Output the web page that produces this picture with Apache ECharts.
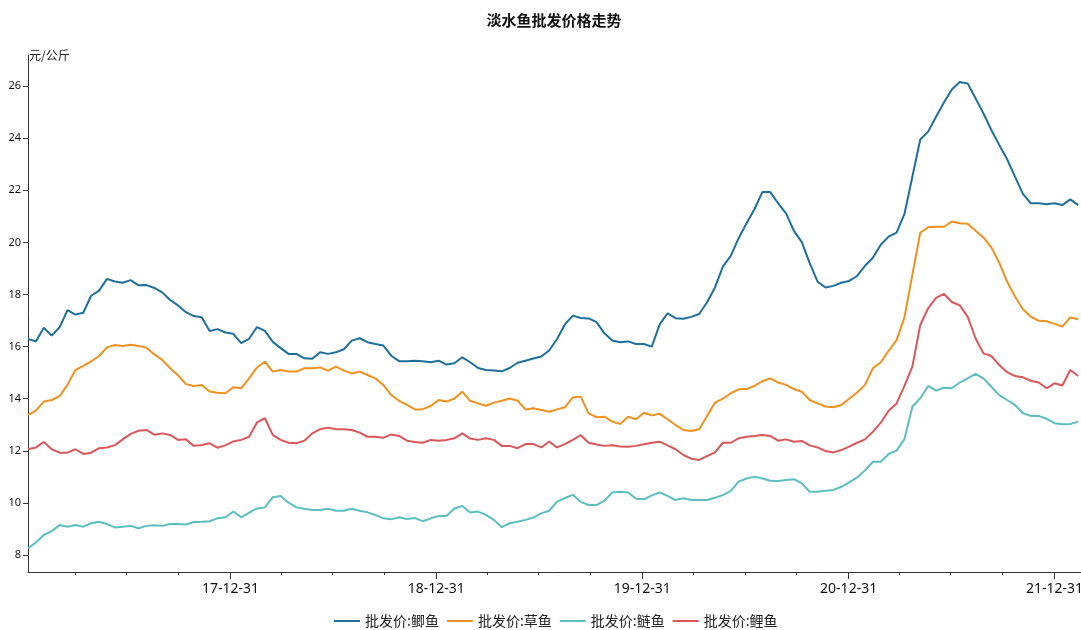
<!DOCTYPE html>
<html><head><meta charset="utf-8">
<script src="https://cdn.jsdelivr.net/npm/echarts@6/dist/echarts.min.js"></script>
<style>html,body{margin:0;padding:0;background:#fff}#c{width:1081px;height:630px}</style>
</head><body><div id="c"></div>
<script>
const chartTitle = '淡水鱼批发价格走势';
const yUnit = '元/公斤';
const seriesNames = ['批发价:鲫鱼', '批发价:草鱼', '批发价:鲢鱼', '批发价:鲤鱼'];
const firstDate = '2017-01-06';
const stepDays = 14;
const crucian = [
16.29,16.2,16.72,16.42,16.74,17.4,17.23,17.3,17.95,18.15,
18.6,18.5,18.45,18.55,18.35,18.36,18.25,18.08,17.79,17.58,
17.32,17.17,17.13,16.6,16.67,16.54,16.49,16.13,16.3,16.75,
16.6,16.18,15.94,15.72,15.72,15.55,15.53,15.78,15.72,15.78,
15.9,16.23,16.32,16.17,16.1,16.04,15.65,15.44,15.44,15.46,
15.44,15.4,15.46,15.31,15.36,15.59,15.4,15.18,15.1,15.08,
15.05,15.18,15.38,15.46,15.54,15.62,15.85,16.29,16.85,17.19,
17.1,17.08,16.94,16.51,16.23,16.17,16.2,16.1,16.1,16.0,
16.85,17.28,17.09,17.07,17.14,17.25,17.7,18.27,19.07,19.48,
20.16,20.73,21.27,21.93,21.93,21.5,21.11,20.44,20.01,19.2,
18.49,18.27,18.33,18.45,18.52,18.71,19.1,19.41,19.91,20.22,
20.37,21.09,22.52,23.95,24.25,24.82,25.37,25.87,26.15,26.1,
25.53,24.95,24.31,23.74,23.19,22.52,21.86,21.5,21.5,21.46,
21.5,21.43,21.65,21.43];
const grass = [
13.38,13.54,13.89,13.95,14.1,14.53,15.1,15.26,15.43,15.64,
15.97,16.06,16.02,16.07,16.02,15.96,15.7,15.49,15.17,14.9,
14.56,14.49,14.53,14.28,14.23,14.21,14.44,14.4,14.78,15.2,
15.42,15.04,15.1,15.04,15.04,15.17,15.17,15.2,15.08,15.23,
15.08,14.97,15.04,14.91,14.78,14.53,14.14,13.92,13.76,13.59,
13.6,13.72,13.95,13.89,14.01,14.27,13.92,13.82,13.73,13.85,
13.92,14.01,13.92,13.59,13.63,13.57,13.5,13.59,13.67,14.05,
14.08,13.44,13.29,13.31,13.12,13.03,13.31,13.21,13.46,13.36,
13.42,13.21,12.99,12.8,12.76,12.83,13.34,13.85,14.0,14.21,
14.36,14.37,14.49,14.67,14.78,14.62,14.53,14.37,14.27,13.95,
13.82,13.7,13.67,13.76,14.0,14.24,14.53,15.17,15.4,15.84,
16.25,17.12,18.75,20.37,20.58,20.6,20.6,20.8,20.73,20.71,
20.45,20.19,19.81,19.22,18.49,17.92,17.43,17.15,16.99,16.97,
16.87,16.77,17.12,17.05];
const silver = [
8.26,8.48,8.77,8.92,9.15,9.09,9.15,9.09,9.22,9.28,
9.19,9.06,9.09,9.12,9.03,9.12,9.14,9.12,9.19,9.19,
9.17,9.27,9.28,9.3,9.41,9.45,9.67,9.45,9.63,9.79,
9.83,10.22,10.27,10.01,9.83,9.78,9.73,9.73,9.78,9.7,
9.7,9.78,9.7,9.64,9.54,9.41,9.37,9.45,9.38,9.42,
9.3,9.41,9.5,9.5,9.79,9.88,9.63,9.67,9.54,9.35,
9.07,9.22,9.28,9.35,9.44,9.6,9.7,10.05,10.19,10.31,
10.04,9.92,9.92,10.09,10.4,10.43,10.4,10.16,10.14,10.29,
10.4,10.27,10.11,10.18,10.11,10.11,10.11,10.2,10.3,10.46,
10.82,10.94,11.01,10.94,10.85,10.84,10.88,10.91,10.75,10.43,
10.43,10.47,10.5,10.62,10.79,10.98,11.25,11.58,11.58,11.88,
12.01,12.45,13.69,14.02,14.49,14.31,14.42,14.4,14.62,14.78,
14.95,14.78,14.46,14.14,13.95,13.76,13.44,13.34,13.34,13.23,
13.06,13.02,13.03,13.12];
const carp = [
12.06,12.13,12.34,12.06,11.93,11.93,12.06,11.88,11.93,12.1,
12.13,12.22,12.44,12.65,12.77,12.8,12.62,12.67,12.61,12.42,
12.44,12.19,12.22,12.29,12.12,12.21,12.36,12.42,12.54,13.09,
13.25,12.61,12.42,12.31,12.29,12.39,12.67,12.83,12.89,12.83,
12.83,12.8,12.7,12.54,12.54,12.5,12.63,12.57,12.39,12.34,
12.31,12.42,12.39,12.42,12.48,12.67,12.47,12.42,12.48,12.42,
12.19,12.19,12.1,12.26,12.26,12.13,12.36,12.13,12.26,12.42,
12.6,12.31,12.24,12.19,12.21,12.17,12.16,12.19,12.25,12.31,
12.35,12.21,12.06,11.84,11.7,11.65,11.8,11.94,12.31,12.31,
12.48,12.54,12.57,12.61,12.57,12.39,12.44,12.35,12.38,12.21,
12.13,11.99,11.94,12.03,12.16,12.31,12.44,12.73,13.08,13.54,
13.82,14.49,15.23,16.83,17.47,17.87,18.02,17.71,17.58,17.15,
16.32,15.74,15.64,15.29,15.02,14.87,14.82,14.69,14.62,14.4,
14.59,14.51,15.1,14.87];
const yTicks = [8, 10, 12, 14, 16, 18, 20, 22, 24, 26];
const xLabelDates = ['2017-12-31', '2018-12-31', '2019-12-31', '2020-12-31', '2021-12-31'];
const xLabelTexts = ['17-12-31', '18-12-31', '19-12-31', '20-12-31', '21-12-31'];
const xMinorTickDates = ['2017-03-31','2017-06-30','2017-09-30','2018-03-31','2018-06-30','2018-09-30',
  '2019-03-31','2019-06-30','2019-09-30','2020-03-31','2020-06-30','2020-09-30',
  '2021-03-31','2021-06-30','2021-09-30'];
const xRange = ['2017-01-06', '2022-02-16'];
const yRange = [7.35, 27.19];

// x is measured in days since firstDate (value axis)
const DAY = 86400000;
function ts(s) { const p = s.split('-').map(Number); return Date.UTC(p[0], p[1] - 1, p[2]); }
const t0 = ts(firstDate);
function dayOf(s) { return Math.round((ts(s) - t0) / DAY); }
function pairs(arr) { return arr.map((v, i) => [i * stepDays, v]); }
const labelDays = xLabelDates.map(dayOf);
const minorDays = xMinorTickDates.map(dayOf);
const colors = ['#1f6f9a', '#f0901f', '#5cbfbd', '#d9575b'];
const font = '"Noto Sans", "Noto Sans CJK SC", sans-serif';

const chart = echarts.init(document.getElementById('c'), null, { renderer: 'canvas' });
const allData = [crucian, grass, silver, carp];
chart.setOption({
  animation: false,
  color: colors,
  title: { text: chartTitle, left: 554, top: 13, textAlign: 'center', padding: 0,
    textStyle: { fontSize: 15, fontWeight: 'bold', color: '#111', fontFamily: '"Noto Sans CJK SC", sans-serif' } },
  legend: { data: seriesNames, left: 334, top: 614, padding: 0, itemGap: 8, itemWidth: 26, itemHeight: 2,
    icon: 'rect', textStyle: { fontSize: 14, color: '#222', fontFamily: '"Noto Sans CJK SC", sans-serif' } },
  grid: { left: 28, right: 0, top: 55, bottom: 58, containLabel: false, outerBoundsMode: 'none' },
  xAxis: [{
    type: 'value', min: dayOf(xRange[0]), max: dayOf(xRange[1]), position: 'bottom',
    axisLine: { onZero: false, lineStyle: { color: '#333', width: 1 } },
    axisTick: { show: true, customValues: labelDays, length: 7, lineStyle: { color: '#333' } },
    axisLabel: { customValues: labelDays, margin: 10, fontSize: 14, color: '#111', fontFamily: font,
      formatter: function (v) {
        const i = labelDays.indexOf(Math.round(v));
        return i >= 0 ? xLabelTexts[i] : '';
      } },
    splitLine: { show: false }
  }, {
    type: 'value', min: dayOf(xRange[0]), max: dayOf(xRange[1]), position: 'bottom',
    axisLine: { show: false, onZero: false },
    axisTick: { show: true, customValues: minorDays, length: 3, lineStyle: { color: '#333' } },
    axisLabel: { show: false },
    splitLine: { show: false }
  }],
  yAxis: {
    type: 'value', min: yRange[0], max: yRange[1],
    name: yUnit, nameLocation: 'end', nameGap: 0,
    nameTextStyle: { align: 'left', verticalAlign: 'middle', fontSize: 12, color: '#222', padding: [0, 0, 0, 1],
      fontFamily: '"Noto Sans CJK SC", sans-serif' },
    axisLine: { show: true, onZero: false, lineStyle: { color: '#333', width: 1 } },
    axisTick: { show: true, customValues: yTicks, length: 5, lineStyle: { color: '#333' } },
    axisLabel: { customValues: yTicks, margin: 7, fontSize: 11, color: '#111', fontFamily: font },
    splitLine: { show: false }
  },
  series: seriesNames.map((n, k) => ({
    name: n, type: 'line', xAxisIndex: 0, data: pairs(allData[k]), showSymbol: false, symbol: 'none',
    lineStyle: { width: 2, color: colors[k] }, itemStyle: { color: colors[k] }
  }))
});
</script>
</body></html>
